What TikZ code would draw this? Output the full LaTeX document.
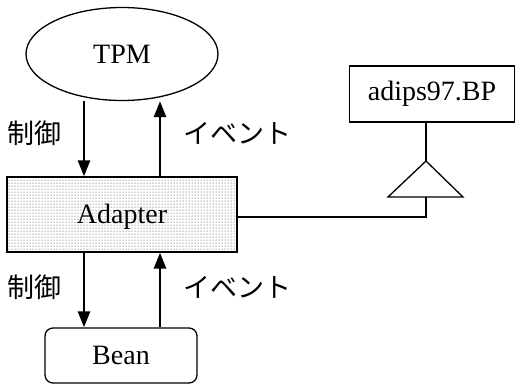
\documentclass[tikz,border=0pt]{standalone}
\usepackage{fontspec}
\setmainfont{Liberation Serif}
\newfontfamily\cjk{Noto Sans CJK JP}
\usetikzlibrary{shapes.geometric,arrows.meta,patterns}
\begin{document}
\begin{tikzpicture}[x=1pt,y=-1pt,
  lbl/.style={font=\fontsize{28}{30}\selectfont},
  jlbl/.style={font=\cjk\fontsize{27}{29}\selectfont},
  box/.style={draw,line width=1.3pt,inner sep=0pt},
  arr/.style={line width=2.8pt,-{Triangle[length=16pt,width=12pt]}},
  thin/.style={line width=1.3pt}]
\useasboundingbox[fill=white] (0,0) rectangle (517,384);
\node[box,ellipse,minimum width=192pt,minimum height=93pt,lbl] (tpm) at (122,54) {TPM};
\node[box,rectangle,minimum width=230pt,minimum height=75pt,pattern=dots,pattern color=black!80] (adapter) at (122,214.5) {};
\node[lbl] (adtext) at (122,217) {Adapter};
\node[box,rectangle,rounded corners=8pt,minimum width=152pt,minimum height=55pt,lbl] (bean) at (121,355.5) {Bean};
\node[box,rectangle,minimum width=165pt,minimum height=56pt,lbl] (bp) at (432,94) {adips97.BP};
\coordinate (xL) at (84,0);
\coordinate (xR) at (160,0);
\coordinate (tapex) at (426,161);
\coordinate (tleft) at (388,197);
\coordinate (tright) at (463,197);
\coordinate (tbase) at (426,197);
\coordinate (corner) at (426,217);
\draw[thin] (tapex) -- (tleft) -- (tright) -- cycle;
\draw[thin] (bp.south -| tapex) -- (tapex);
\draw[thin] (tbase) -- (corner) -- (corner -| adapter.east);
\draw[arr] (tpm.south -| xL) -- (adapter.north -| xL);
\draw[arr] (adapter.north -| xR) -- (tpm.south -| xR);
\draw[arr] (adapter.south -| xL) -- (bean.north -| xL);
\draw[arr] (bean.north -| xR) -- (adapter.south -| xR);
\node[jlbl] (c1) at (34,133) {制御};
\node[jlbl] (e1) at (237,133) {イベント};
\node[jlbl] (c2) at (34,287) {制御};
\node[jlbl] (e2) at (237,287) {イベント};
\end{tikzpicture}
\end{document}
